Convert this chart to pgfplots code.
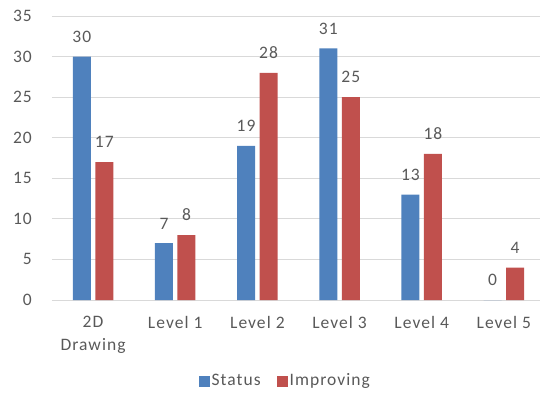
\documentclass[border=0pt]{standalone}
\usepackage{pgfplots}
\pgfplotsset{compat=1.18}
\usepackage{fontspec}
\setmainfont{Carlito}[LetterSpace=6]
\definecolor{sblue}{HTML}{4F81BD}
\definecolor{sred}{HTML}{C0504D}
\definecolor{txt}{HTML}{595959}
\definecolor{gridc}{HTML}{D9D9D9}
\begin{document}
\fontsize{17.5}{23}\selectfont
\begin{tikzpicture}
\useasboundingbox (-52pt,-93pt) rectangle (488pt,300pt);
\begin{axis}[
  at={(0,0)}, anchor=south west,
  scale only axis, width=488pt, height=284pt,
  xmin=-0.5, xmax=5.44, ymin=0, ymax=35,
  ytick={0,5,...,35},
  xtick={0,1,2,3,4,5},
  xticklabels={{2D\\Drawing},{Level 1},{Level 2},{Level 3},{Level 4},{Level 5}},
  xticklabel style={align=center, text=txt, inner sep=0pt, yshift=-16pt},
  yticklabel style={text=txt, inner sep=0pt, xshift=-20pt},
  /pgf/number format/assume math mode=true,
  ymajorgrids, grid style={draw=gridc, line width=0.8pt},
  axis line style={draw=none},
  major tick length=0pt,
  ybar=4.5pt, bar width=18pt,
  clip=false,
  nodes near coords,
  every node near coord/.append style={text=txt, inner sep=0pt, anchor=south, yshift=14pt},
  legend style={at={(0.478,0)}, yshift=-81pt, anchor=center, draw=none, fill=none,
    legend columns=-1, text=txt,
    /tikz/every even column/.append style={column sep=14pt}},
  legend image code/.code={\fill[#1] (0pt,-5.5pt) rectangle (11pt,5.5pt);},
]
\addplot[fill=sblue, draw=none] coordinates {(0,30) (1,7) (2,19) (3,31) (4,13) (5,0)};
\addplot[fill=sred, draw=none] coordinates {(0,17) (1,8) (2,28) (3,25) (4,18) (5,4)};
\legend{Status, Improving}
\end{axis}
\end{tikzpicture}
\end{document}
